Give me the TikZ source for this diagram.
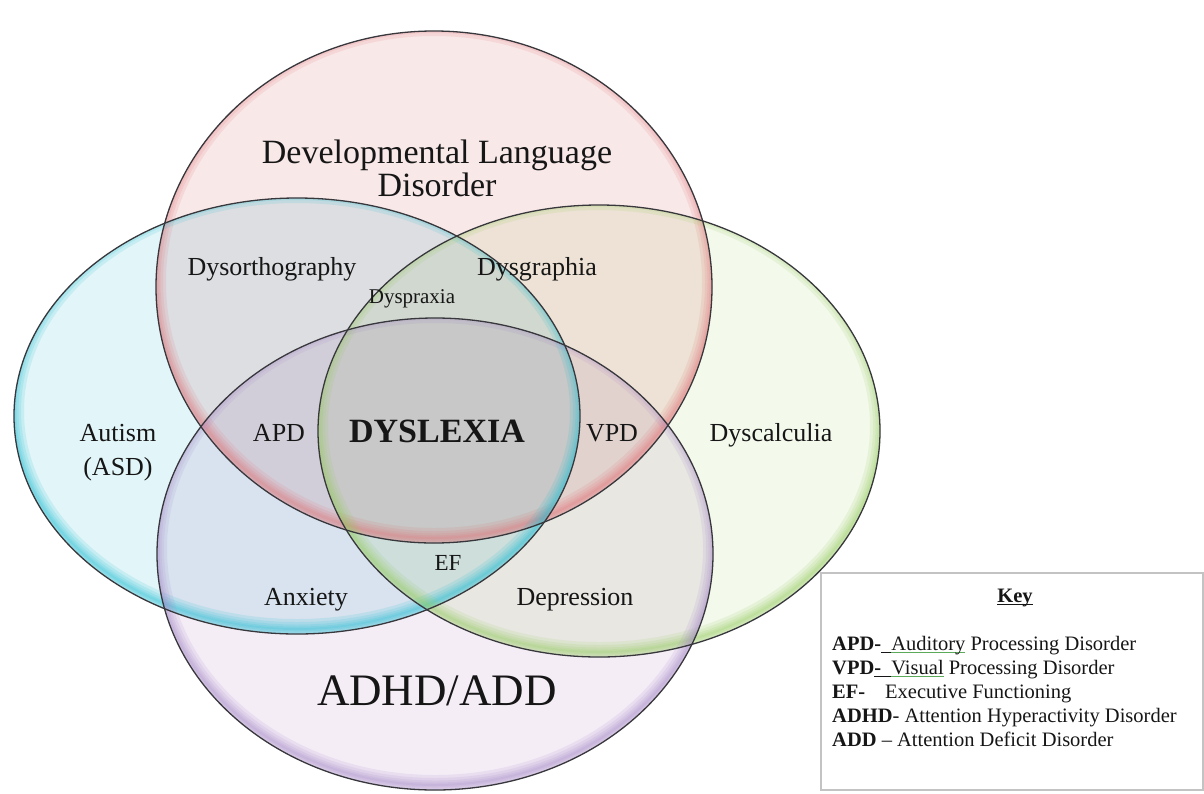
\documentclass[tikz,border=0pt]{standalone}
\usepackage{fontspec}
\setmainfont{Liberation Serif}
\definecolor{txt}{RGB}{22,22,22}
\definecolor{redfill}{RGB}{249,232,232}
\definecolor{cyanfill}{RGB}{226,245,248}
\definecolor{greenfill}{RGB}{243,249,235}
\definecolor{purplefill}{RGB}{244,237,246}
\definecolor{redglow}{RGB}{225,115,120}
\definecolor{cyanglow}{RGB}{30,190,212}
\definecolor{greenglow}{RGB}{150,205,95}
\definecolor{purpleglow}{RGB}{165,135,200}
\definecolor{outl}{RGB}{55,55,60}
\definecolor{keyframe}{RGB}{195,195,195}
\definecolor{ulgreen}{RGB}{90,170,90}
\newcommand\gul[1]{\setbox0\hbox{#1}\rlap{\color{ulgreen}\rule[-3pt]{\wd0}{0.9pt}}\box0\relax}
\newcommand\dul[1]{\setbox0\hbox{#1}\rlap{\color{txt}\rule[-3pt]{\wd0}{0.9pt}}\box0\relax}
\newcommand\vglow[4]{%
  \begin{scope}
    \clip (#1) ellipse [x radius=#2, y radius=#3];
    \foreach \w in {2,5,9,14,20} {
      \draw[line width=\w pt, #4, opacity=0.14] ([yshift=5pt]#1) ellipse [x radius=#2, y radius=#3];
    }
  \end{scope}}
\begin{document}
\begin{tikzpicture}[x=1pt,y=-1pt,
  lbl/.style={font=\fontsize{26}{30}\selectfont, text=txt, inner sep=0pt, anchor=base},
  keyline/.style={font=\fontsize{20.5}{24}\selectfont, text=txt, inner sep=0pt, anchor=base west},
  outline/.style={draw=outl, line width=1.3pt}]
\useasboundingbox (0,0) rectangle (1204,793);
\fill[white] (0,0) rectangle (1204,793);
\coordinate (cr) at (434,287);
\coordinate (cc) at (297,416);
\coordinate (cg) at (599,431);
\coordinate (cp) at (435,554);
% fills
\begin{scope}[blend group=multiply]
  \fill[redfill] (cr) ellipse [x radius=278, y radius=256];
  \fill[cyanfill] (cc) ellipse [x radius=283, y radius=218];
  \fill[greenfill] (cg) ellipse [x radius=281, y radius=226];
  \fill[purplefill] (cp) ellipse [x radius=278, y radius=236];
\end{scope}
% glows
\vglow{cr}{278}{256}{redglow}
\vglow{cc}{283}{218}{cyanglow}
\vglow{cg}{281}{226}{greenglow}
\vglow{cp}{278}{236}{purpleglow}
% outlines
\draw[outline] (cr) ellipse [x radius=278, y radius=256];
\draw[outline] (cc) ellipse [x radius=283, y radius=218];
\draw[outline] (cg) ellipse [x radius=281, y radius=226];
\draw[outline] (cp) ellipse [x radius=278, y radius=236];
% labels
\node[lbl, font=\fontsize{34}{40}\selectfont] (dld1) at (437,163) {Developmental Language};
\node[lbl, font=\fontsize{34}{40}\selectfont] (dld2) at (437,196) {Disorder};
\node[lbl] (dysorth) at (272,275) {Dysorthography};
\node[lbl] (dysgraph) at (537,275) {Dysgraphia};
\node[lbl, font=\fontsize{21}{25}\selectfont] (dyspraxia) at (412,303) {Dyspraxia};
\node[lbl] (autism) at (118,441) {Autism};
\node[lbl] (asd) at (118,475) {(ASD)};
\node[lbl] (apd) at (279,441) {APD};
\node[lbl, font=\fontsize{34}{40}\selectfont\bfseries] (dyslexia) at (437,442) {DYSLEXIA};
\node[lbl] (vpd) at (612,441) {VPD};
\node[lbl] (dyscalc) at (771,441) {Dyscalculia};
\node[lbl, font=\fontsize{23}{27}\selectfont] (ef) at (448,570) {EF};
\node[lbl] (anxiety) at (306,605) {Anxiety};
\node[lbl] (depression) at (575,605) {Depression};
\node[lbl, font=\fontsize{45}{52}\selectfont] (adhd) at (437,705) {ADHD/ADD};
% key
\draw[draw=keyframe, line width=1.5pt] (821,573) rectangle (1203,790);
\node[lbl, font=\fontsize{20.5}{24}\selectfont\bfseries] (keytitle) at (1015,602) {\dul{Key}};
\node[keyline] (k1) at (832,650) {\textbf{APD-}\dul{\ \ }\gul{Auditory} Processing Disorder};
\node[keyline] (k2) at (832,674) {\textbf{VPD}\dul{\textbf{-}\ \ }\gul{Visual} Processing Disorder};
\node[keyline] (k3) at (832,698) {\makebox[53pt][l]{\textbf{EF-}}Executive Functioning};
\node[keyline] (k4) at (832,722) {\textbf{ADHD}- Attention Hyperactivity Disorder};
\node[keyline] (k5) at (832,746) {\textbf{ADD} -- Attention Deficit Disorder};
\end{tikzpicture}
\end{document}
